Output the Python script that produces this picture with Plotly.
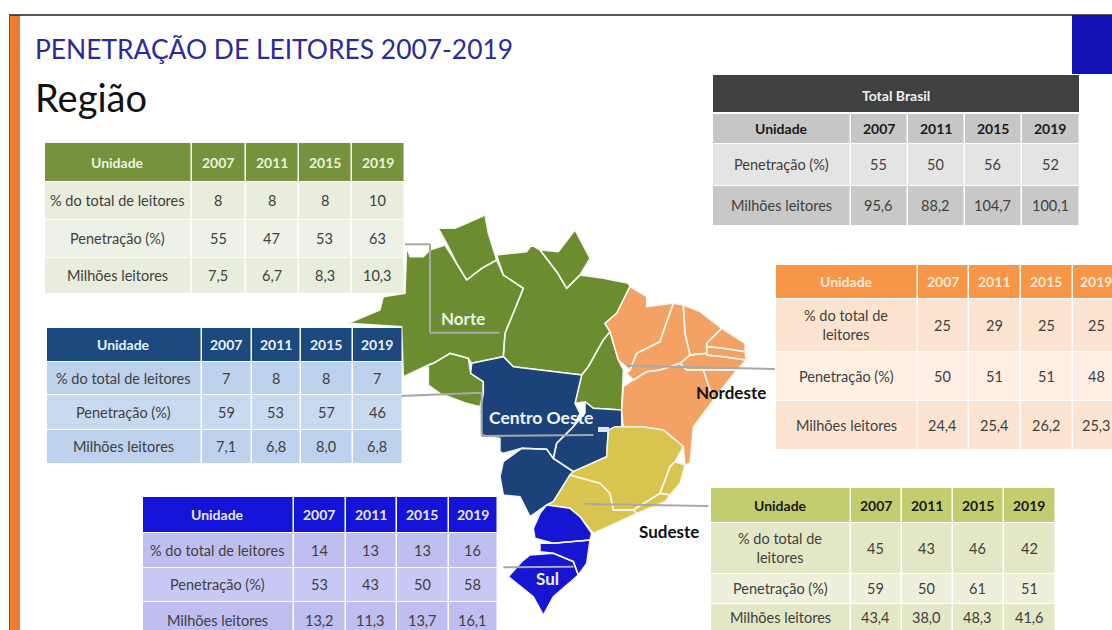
import plotly.graph_objects as go

W, H = 1112, 630

# table contents
years = ["2007", "2011", "2015", "2019"]
row_labels = ["% do total de leitores", "Penetração (%)", "Milhões leitores"]

norte_total = ["8", "8", "8", "10"]
norte_penetracao = ["55", "47", "53", "63"]
norte_milhoes = ["7,5", "6,7", "8,3", "10,3"]

centro_total = ["7", "8", "8", "7"]
centro_penetracao = ["59", "53", "57", "46"]
centro_milhoes = ["7,1", "6,8", "8,0", "6,8"]

sul_total = ["14", "13", "13", "16"]
sul_penetracao = ["53", "43", "50", "58"]
sul_milhoes = ["13,2", "11,3", "13,7", "16,1"]

brasil_penetracao = ["55", "50", "56", "52"]
brasil_milhoes = ["95,6", "88,2", "104,7", "100,1"]

nordeste_total = ["25", "29", "25", "25"]
nordeste_penetracao = ["50", "51", "51", "48"]
nordeste_milhoes = ["24,4", "25,4", "26,2", "25,3"]

sudeste_total = ["45", "43", "46", "42"]
sudeste_penetracao = ["59", "50", "61", "51"]
sudeste_milhoes = ["43,4", "38,0", "48,3", "41,6"]

# map outlines
norte_states = [
    # Roraima, Amapa
    [(295,85),(345,85),(380,70),(435,45),(445,100),(470,180),(425,205),(380,240),(350,190),(320,130)],
    [(600,150),(655,155),(705,90),(750,175),(720,225),(680,265),(650,215)],
    # Amazonas + Acre
    [(200,140),(210,170),(250,170),(270,150),(315,135),(350,190),(380,240),(425,205),(470,180),(490,225),
     (550,265),(520,340),(495,400),(490,470),(395,490),(385,475),(330,460),(280,490),(265,495),(190,530),
     (185,380),(25,370),(120,330),(130,290),(195,280)],
    # Rondonia
    [(330,460),(385,475),(392,520),(430,545),(430,580),(420,620),(380,610),(300,580),(265,555),(265,495),(280,490)],
    # Para
    [(470,165),(560,155),(575,135),(600,150),(650,215),(680,265),(720,225),(790,235),(865,250),(870,260),
     (830,340),(795,370),(810,395),(790,420),(745,500),(725,525),(520,500),(490,470),(495,400),(520,340),
     (550,265),(490,225)],
    # Tocantins
    [(810,395),(835,480),(850,510),(845,630),(760,625),(735,605),(705,610),(725,525),(745,500),(790,420)],
]
centro_states = [
    [(395,490),(490,470),(520,500),(725,525),(705,610),(720,640),(700,680),(650,730),(640,775),(620,748),
     (545,745),(490,760),(480,755),(480,715),(425,705),(420,635),(430,580),(430,545),(392,520)],
    [(735,640),(735,605),(760,625),(845,630),(845,680),(805,690),(800,770),(700,815),(640,775),(650,730),(700,680)],
    [(490,785),(545,745),(620,748),(640,775),(700,815),(690,825),(640,905),(620,915),(570,950),(540,890),(490,885),(480,830)],
]
nordeste_states = [
    [(870,260),(920,290),(920,320),(1000,310),(975,380),(960,425),(890,460),(870,510),(835,480),(810,395),(795,370),(830,340)],
    [(1000,310),(1030,315),(1035,400),(1050,465),(1020,490),(960,510),(920,515),(880,540),(860,520),(870,510),(890,460),(960,425),(975,380)],
    [(1030,315),(1080,335),(1145,385),(1100,430),(1100,460),(1050,465),(1035,400)],
    [(1145,385),(1215,430),(1215,455),(1150,445),(1100,440),(1100,430)],
    [(1100,440),(1150,445),(1215,455),(1218,480),(1150,470),(1100,465),(1100,460)],
    [(1050,465),(1100,460),(1100,465),(1150,470),(1218,480),(1190,510),(1100,510),(1040,510),(1020,490)],
    [(1090,510),(1190,510),(1120,600)],
    [(880,540),(920,515),(960,510),(1020,490),(1040,510),(1090,510),(1120,600),(1090,640),(1060,680),(1050,790),
     (1035,795),(1030,740),(970,690),(905,680),(850,685),(845,630),(850,560)],
]
sudeste_states = [
    [(825,680),(905,680),(970,690),(1030,740),(1005,785),(990,800),(960,880),(880,930),(820,930),(810,880),
     (780,850),(690,825),(700,815),(800,770),(805,690)],
    [(1005,785),(1035,795),(1020,850),(990,885),(960,880),(990,800)],
    [(880,930),(960,880),(990,885),(975,905),(890,940)],
    [(640,905),(690,825),(780,850),(810,880),(820,930),(880,930),(890,940),(760,1000),(720,950),(690,925),(620,915)],
]
sul_states = [
    [(620,915),(690,925),(720,950),(755,1000),(750,1020),(640,1030),(585,1015),(580,985),(600,940)],
    [(600,1030),(640,1030),(750,1020),(740,1090),(715,1125),(700,1085),(640,1060),(600,1055)],
    [(570,1065),(640,1060),(700,1085),(715,1125),(640,1190),(610,1245),(580,1190),(505,1130),(545,1085)],
]


def map_xy(p):
    return 340 + p[0] / 3, 200 + p[1] / 3


fig = go.Figure()

for states, color in [
    (norte_states, "#6c8c30"),
    (centro_states, "#1b4379"),
    (nordeste_states, "#f3a263"),
    (sudeste_states, "#d8c44e"),
    (sul_states, "#1616d2"),
]:
    xs, ys = [], []
    for poly in states:
        pts = [map_xy(p) for p in poly + [poly[0]]]
        xs += [p[0] for p in pts] + [None]
        ys += [p[1] for p in pts] + [None]
    fig.add_trace(go.Scatter(x=xs, y=ys, mode="lines", fill="toself", fillcolor=color,
                             line=dict(color="#f4f6f0", width=1.5), hoverinfo="skip", showlegend=False))

shapes = []
annotations = []


def rect(x0, y0, x1, y1, color):
    shapes.append(dict(type="rect", x0=x0, y0=y0, x1=x1, y1=y1, fillcolor=color,
                       line=dict(width=0), layer="above", xref="x", yref="y"))


def text(x, y, s, size=14.5, color="#404040", bold=False, anchor="center", family="Lato"):
    if bold:
        s = "<b>" + s + "</b>"
    annotations.append(dict(x=x, y=y, text=s, showarrow=False, xanchor=anchor, yanchor="middle",
                            font=dict(family=family, size=size, color=color), xref="x", yref="y"))


def leader(points):
    for i in range(len(points) - 1):
        x0, y0 = map_xy(points[i])
        x1, y1 = map_xy(points[i + 1])
        shapes.append(dict(type="line", x0=x0, y0=y0, x1=x1, y1=y1, layer="above",
                           line=dict(color="#a8a8a8", width=2), xref="x", yref="y"))


def table(col_x, row_y, labels, rows, head_color, head_text, cell_colors, head_label="Unidade"):
    for j in range(len(col_x) - 1):
        rect(col_x[j], row_y[0], col_x[j + 1] - 1.5, row_y[1] - 1, head_color)
        cx = (col_x[j] + col_x[j + 1] - 1.5) / 2
        cy = (row_y[0] + row_y[1] - 1) / 2
        text(cx, cy, head_label if j == 0 else years[j - 1], 14, head_text, True)
        for i, row in enumerate(rows):
            rect(col_x[j], row_y[i + 1], col_x[j + 1] - 1.5, row_y[i + 2] - 1, cell_colors[i % 2])
            cy = (row_y[i + 1] + row_y[i + 2] - 1) / 2
            text(cx, cy, labels[i] if j == 0 else row[j - 1])


leader([(195, 133), (270, 133), (270, 398), (478, 398)])
leader([(180, 588), (425, 578), (425, 708), (760, 705)])
leader([(860, 497), (1305, 507)])
leader([(735, 912), (1105, 918)])
leader([(490, 1102), (700, 1100)])

# small Distrito Federal box on the map
rect(598, 427, 609, 432, "#dfe6ee")

table([45, 192, 246, 299, 352, 405], [143, 182, 220, 258, 294],
      row_labels, [norte_total, norte_penetracao, norte_milhoes],
      "#76923c", "#eef1dc", ["#e8eddd", "#eef2e6"])
table([47, 202, 252, 301, 353, 403], [328, 362, 395, 430, 464],
      row_labels, [centro_total, centro_penetracao, centro_milhoes],
      "#1c4a7e", "#eaf0f8", ["#bcd2ec", "#c8daf0"])
table([143, 294, 346, 397, 449, 498], [497, 533, 568, 602, 639],
      row_labels, [sul_total, sul_penetracao, sul_milhoes],
      "#1414d8", "#e8e8ff", ["#bebef0", "#c8c8f4"])

rect(713, 75, 1079, 112, "#404040")
text(896, 95, "Total Brasil", 14, "#f0f0f0", True)
table([713, 851, 908, 965, 1022, 1080], [114, 144, 186, 226],
      row_labels[1:], [brasil_penetracao, brasil_milhoes],
      "#c6c6c6", "#1a1a1a", ["#e4e4e4", "#c8c8c8"])

table([776, 918, 969, 1021, 1073, 1121], [265, 299, 352, 401, 450],
      ["% do total de<br>leitores"] + row_labels[1:], [nordeste_total, nordeste_penetracao, nordeste_milhoes],
      "#f79646", "#fde9d9", ["#fde4d0", "#feeee3"])
table([711, 851, 902, 953, 1004, 1056], [488, 523, 574, 604, 631],
      ["% do total de<br>leitores"] + row_labels[1:], [sudeste_total, sudeste_penetracao, sudeste_milhoes],
      "#c3cd6f", "#1a1a1a", ["#e4e7c6", "#eef0dc"])

# slide furniture
rect(10, 15, 20, H, "#ed7d31")
rect(1072, 15, W, 74, "#1212b4")
shapes.append(dict(type="line", x0=9, y0=15, x1=W, y1=15, layer="above",
                   line=dict(color="#222222", width=1.5), xref="x", yref="y"))
shapes.append(dict(type="line", x0=9.5, y0=15, x1=9.5, y1=H, layer="above",
                   line=dict(color="#555555", width=1), xref="x", yref="y"))

text(33, 49, "PENETRAÇÃO DE LEITORES 2007-2019", 26.4, "#2a2a9c", anchor="left")
text(33, 97, "Região", 38, "#111111", anchor="left")

text(463, 318, "Norte", 17, "#f0f2e0", True)
text(541, 417, "Centro Oeste", 17.5, "#f0f4fa", True)
text(731, 392, "Nordeste", 17, "#111111", True)
text(669, 531, "Sudeste", 17, "#111111", True)
text(547, 578, "Sul", 17, "#f0f0ff", True)

fig.update_layout(
    width=W,
    height=H,
    margin=dict(l=0, r=0, t=0, b=0),
    paper_bgcolor="white",
    plot_bgcolor="white",
    showlegend=False,
    xaxis=dict(range=[0, W], visible=False, fixedrange=True),
    yaxis=dict(range=[H, 0], visible=False, fixedrange=True),
    shapes=shapes,
    annotations=annotations,
)

fig.write_html("out.html", config={"displayModeBar": False},
               post_script="document.body.style.margin='0';")
